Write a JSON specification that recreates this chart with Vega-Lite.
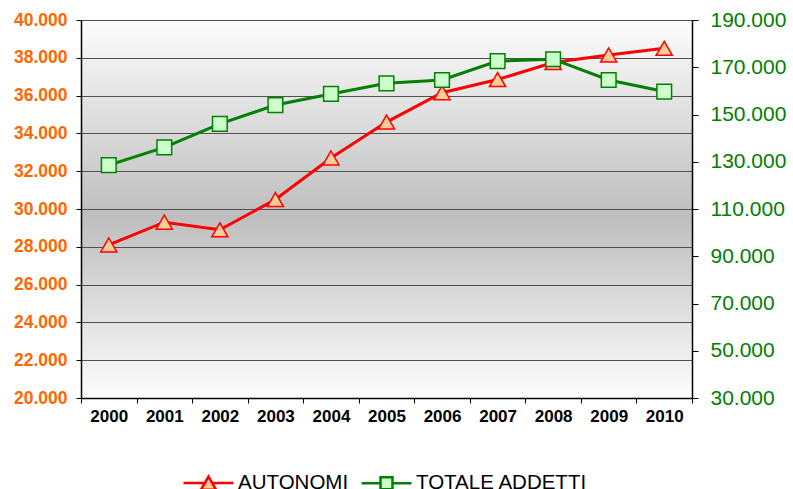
{
  "$schema": "https://vega.github.io/schema/vega-lite/v6.json",
  "width": 611,
  "height": 378,
  "autosize": "none",
  "padding": {"left": 81, "top": 20, "right": 101, "bottom": 91},
  "background": "white",
  "config": {
    "font": "Liberation Sans",
    "view": {
      "stroke": null,
      "fill": {"gradient": "linear", "x1": 0, "y1": 0, "x2": 0, "y2": 1,
        "stops": [
          {"offset": 0, "color": "#fdfdfd"},
          {"offset": 0.52, "color": "#bebebe"},
          {"offset": 1, "color": "#fdfdfd"}
        ]}
    }
  },
  "data": {"values": [
    {"year": "2000", "autonomi": 28100, "totale": 128600},
    {"year": "2001", "autonomi": 29300, "totale": 136100},
    {"year": "2002", "autonomi": 28900, "totale": 146000},
    {"year": "2003", "autonomi": 30500, "totale": 154000},
    {"year": "2004", "autonomi": 32700, "totale": 158700},
    {"year": "2005", "autonomi": 34600, "totale": 163200},
    {"year": "2006", "autonomi": 36150, "totale": 164600},
    {"year": "2007", "autonomi": 36850, "totale": 172600},
    {"year": "2008", "autonomi": 37750, "totale": 173400},
    {"year": "2009", "autonomi": 38150, "totale": 164600},
    {"year": "2010", "autonomi": 38500, "totale": 159700}
  ]},
  "layer": [
    {
      "encoding": {
        "x": {"field": "year", "type": "ordinal",
          "scale": {"type": "band", "paddingInner": 0, "paddingOuter": 0},
          "axis": {"title": null, "labelAngle": 0, "labelFontSize": 17, "labelFontWeight": "bold", "labelColor": "black",
            "tickBand": "extent", "tickSize": 5, "tickColor": "black", "domainColor": "black", "domainWidth": 1.5,
            "labelPadding": 5, "grid": false}},
        "y": {"field": "autonomi", "type": "quantitative",
          "scale": {"domain": [20000, 40000], "nice": false, "zero": false},
          "axis": {"title": null, "values": [20000, 22000, 24000, 26000, 28000, 30000, 32000, 34000, 36000, 38000, 40000],
            "labelExpr": "replace(format(datum.value, ','), ',', '.')",
            "labelColor": "#ff6600", "labelFontSize": 17.5, "labelFontWeight": "bold", "labelPadding": 9,
            "tickSize": 5, "tickColor": "black", "domainColor": "black", "domainWidth": 1.5,
            "grid": true, "gridColor": "#505050", "gridWidth": 1}}
      },
      "layer": [
        {"mark": {"type": "line", "strokeWidth": 3},
          "encoding": {"color": {"datum": "AUTONOMI", "type": "nominal",
            "scale": {"domain": ["AUTONOMI", "TOTALE ADDETTI"], "range": ["#ff0000", "#008000"]},
            "legend": {"orient": "none", "legendX": 101, "legendY": 436, "direction": "horizontal", "title": null, "padding": 0,
              "symbolSize": 2500, "symbolStrokeWidth": 2.5, "labelFontSize": 20.5, "labelColor": "black", "labelLimit": 0,
              "labelOffset": 3, "columnPadding": 7,
              "encode": {"symbols": {"update": {
                "shape": {"signal": "datum.value === 'AUTONOMI' ? 'M-1,0H-0.14M0.14,0H1M0,-0.25L0.3,0.27L-0.3,0.27Z' : 'M-1,0H-0.24M0.24,0H1M-0.24,-0.24H0.24V0.24H-0.24Z'"},
                "fill": {"signal": "datum.value === 'AUTONOMI' ? '#ffcc99' : '#ccffcc'"},
                "opacity": {"value": 1}}}}}}}},
        {"mark": {"type": "point", "shape": "triangle-up", "size": 260, "filled": true, "fill": "#ffcc99", "stroke": "#ff0000", "strokeWidth": 1.5, "opacity": 1}}
      ]
    },
    {
      "encoding": {
        "x": {"field": "year", "type": "ordinal",
          "scale": {"type": "band", "paddingInner": 0, "paddingOuter": 0}},
        "y": {"field": "totale", "type": "quantitative",
          "scale": {"domain": [30000, 190000], "nice": false, "zero": false},
          "axis": {"orient": "right", "title": null, "values": [30000, 50000, 70000, 90000, 110000, 130000, 150000, 170000, 190000],
            "labelExpr": "replace(format(datum.value, ','), ',', '.')",
            "labelColor": "#008000", "labelFontSize": 21, "labelFontWeight": "normal", "labelPadding": 12,
            "tickSize": 6, "tickColor": "black", "domainColor": "black", "domainWidth": 1.5, "grid": false}}
      },
      "layer": [
        {"mark": {"type": "line", "strokeWidth": 3},
          "encoding": {"color": {"datum": "TOTALE ADDETTI", "type": "nominal"}}},
        {"mark": {"type": "point", "shape": "square", "size": 215, "filled": true, "fill": "#ccffcc", "stroke": "#008000", "strokeWidth": 1.5, "opacity": 1}}
      ]
    }
  ],
  "resolve": {"scale": {"y": "independent"}}
}
